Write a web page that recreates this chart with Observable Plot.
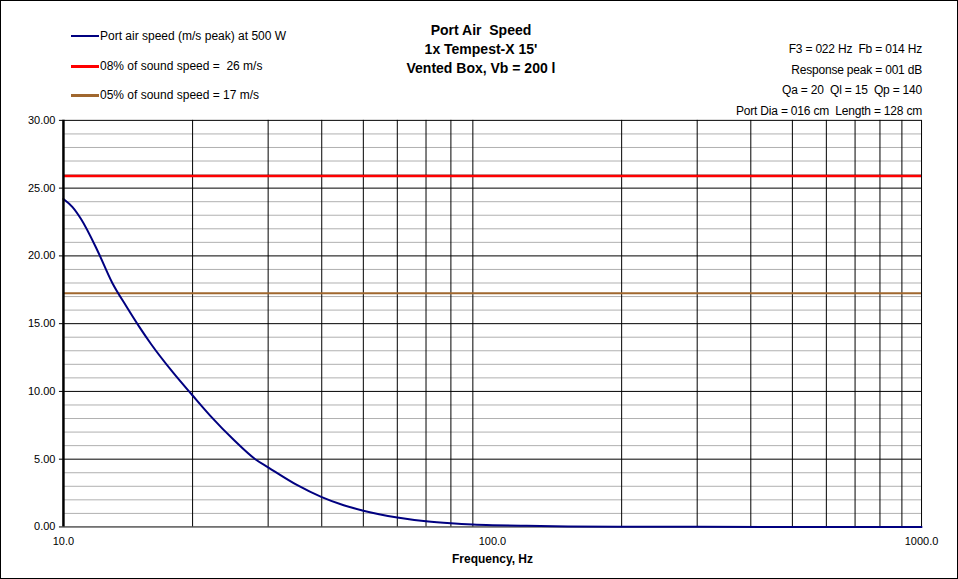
<!DOCTYPE html>
<html><head><meta charset="utf-8">
<script src="https://cdn.jsdelivr.net/npm/d3@7"></script>
<script src="https://cdn.jsdelivr.net/npm/@observablehq/plot@0.6"></script>
<style>
body{margin:0;background:#fff;font-family:Arial,"Liberation Sans",sans-serif;}
#wrap{position:relative;width:956px;height:577px;border:1px solid #000;}
.t{position:absolute;font-size:13px;color:#000;white-space:nowrap;}
.lg{position:absolute;font-size:12px;left:70px;display:flex;align-items:center;}
.lg span{display:inline-block;width:28px;height:2px;margin-right:1px;}
#chart{position:absolute;left:-1px;top:-1px;}
</style></head><body>
<div id="wrap">
<div id="chart"></div>
<div class="lg" style="top:28px"><span style="background:#000080"></span>Port air speed (m/s peak) at 500 W</div>
<div class="lg" style="top:58px"><span style="background:#ff0000;height:3px"></span>08% of sound speed =&nbsp; 26 m/s</div>
<div class="lg" style="top:87px"><span style="background:#a0672e;height:3px"></span>05% of sound speed = 17 m/s</div>
<div class="t" style="left:380px;width:200px;text-align:center;top:20px;font-weight:bold;font-size:14px;line-height:19px">Port Air&nbsp; Speed<br>1x Tempest-X 15'<br>Vented Box, Vb = 200 l</div>
<div class="t" style="right:35px;text-align:right;top:38px;font-size:12px;letter-spacing:-0.2px;line-height:20.5px">F3 = 022 Hz&nbsp; Fb = 014 Hz<br>Response peak = 001 dB<br>Qa = 20&nbsp; Ql = 15&nbsp; Qp = 140<br>Port Dia = 016 cm&nbsp; Length = 128 cm</div>
</div>
<script>
const freq = [10,10.5,11,12,13,14,15,16,18,20,22,25,28,30,35,40,45,50,60,70,80,90,100,120,150,200,300,500,1000];
const speed = [24.2,23.6,22.7,20.4,18.0,16.3,14.8,13.5,11.4,9.7,8.2,6.4,5.0,4.4,3.1,2.2,1.6,1.2,0.7,0.42,0.27,0.18,0.13,0.08,0.04,0.02,0.01,0,0];
const limit8 = 25.9, limit5 = 17.25;
const xTicks = [10,100,1000];
const xGrid = [20,30,40,50,60,70,80,90,200,300,400,500,600,700,800,900];
const yMajor = [0,5,10,15,20,25,30];
const yMinor = d3.range(1,30).filter(v=>v%5!==0);
const data = freq.map((f,i)=>({f,s:speed[i]}));
const chart = Plot.plot({
  width:958,height:579,marginLeft:63,marginRight:36,marginTop:120,marginBottom:52,
  style:{fontFamily:"Arial, 'Liberation Sans', sans-serif",fontSize:"11px",background:"transparent"},
  x:{type:"log",domain:[10,1000],label:null},
  y:{domain:[0,30],label:null},
  marks:[
    Plot.ruleY(yMinor,{stroke:"#b0b0b0",strokeWidth:1}),
    Plot.ruleY(yMajor,{stroke:"#000",strokeWidth:1}),
    Plot.ruleX(xGrid,{stroke:"#000",strokeWidth:1}),
    Plot.ruleX([1000],{stroke:"#000"}),
    Plot.ruleY([limit8],{stroke:"#ff0000",strokeWidth:2.5}),
    Plot.ruleY([limit5],{stroke:"#a0672e",strokeWidth:2}),
    Plot.line(data,{x:"f",y:"s",stroke:"#000080",strokeWidth:2,curve:"monotone-x"}),
    Plot.ruleX([10],{stroke:"#000",strokeWidth:2.5}),
    Plot.axisY({ticks:yMajor,tickFormat:d=>d.toFixed(2),tickSize:4,tickPadding:4,label:null}),
    Plot.axisX({ticks:xTicks,tickFormat:d=>d.toFixed(1),tickSize:0,tickPadding:10,label:null}),
    Plot.text(["Frequency, Hz"],{frameAnchor:"bottom",dy:36,fontWeight:"bold",fontSize:12})
  ]
});
document.getElementById("chart").appendChild(chart);
</script>
</body></html>
